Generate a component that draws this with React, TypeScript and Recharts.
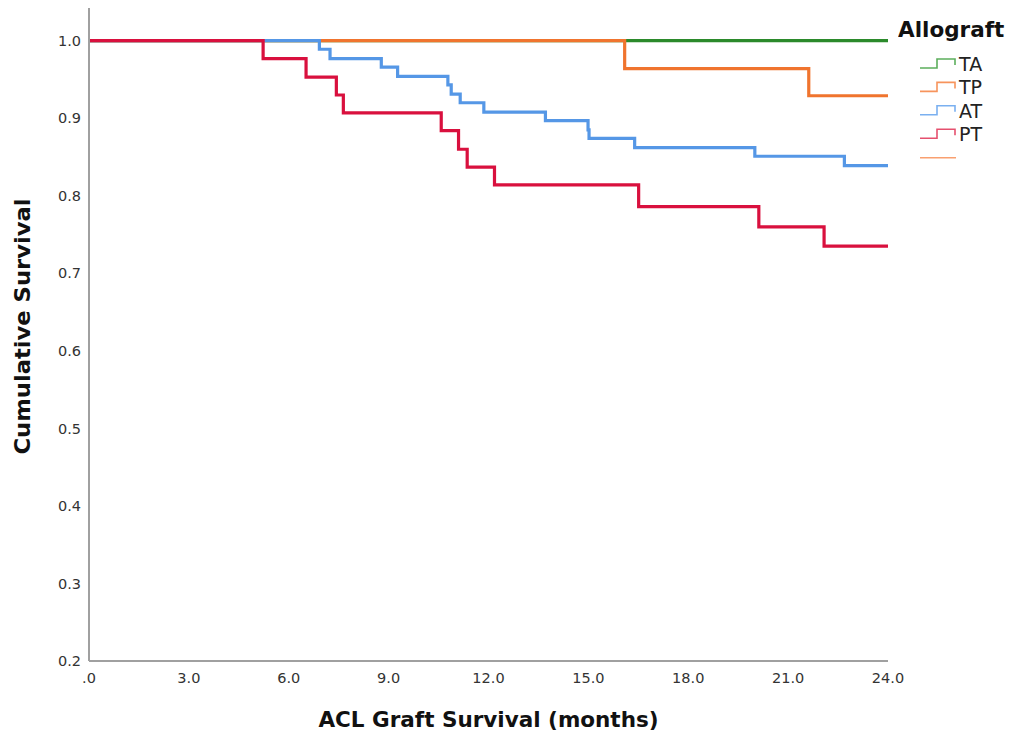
import { LineChart, Line, XAxis, YAxis, Legend } from "recharts";

// Kaplan-Meier steps (months, cumulative survival)
const taTimes = [0, 24];
const taSurv = [1, 1];

const tpTimes = [0, 16.09, 21.62, 24];
const tpSurv = [1, 0.964, 0.929, 0.929];

const atTimes = [0, 6.92, 7.24, 8.78, 9.27, 10.78, 10.88, 11.15, 11.86, 13.71, 14.99, 15.02, 16.39, 20.0, 22.69, 24];
const atSurv = [1, 0.989, 0.977, 0.966, 0.954, 0.943, 0.931, 0.92, 0.908, 0.897, 0.885, 0.874, 0.862, 0.851, 0.839, 0.839];

const ptTimes = [0, 5.23, 6.52, 7.43, 7.64, 10.58, 11.1, 11.36, 12.18, 16.51, 20.12, 22.08, 24];
const ptSurv = [1, 0.977, 0.953, 0.93, 0.907, 0.884, 0.86, 0.837, 0.814, 0.786, 0.76, 0.735, 0.735];

const groups = ["TA", "TP", "AT", "PT"];
const lineColors = ["#2b8a2b", "#f0742e", "#5597e6", "#d9103e"];
const legendColors = ["#5cae5c", "#f7945c", "#7ab0f0", "#e5506e"];

const xTicks = [0, 3, 6, 9, 12, 15, 18, 21, 24];
const yTicks = [0.2, 0.3, 0.4, 0.5, 0.6, 0.7, 0.8, 0.9, 1.0];

const toPoints = (times: number[], surv: number[]) =>
  times.map((t, i) => ({ t, s: surv[i] }));

const series = [
  toPoints(taTimes, taSurv),
  toPoints(tpTimes, tpSurv),
  toPoints(atTimes, atSurv),
  toPoints(ptTimes, ptSurv),
];

const font = "DejaVu Sans";

function YTitle(props: any) {
  const vb = props.viewBox || { x: 0, y: 8, width: 89, height: 653 };
  const cx = 22;
  const cy = vb.y + vb.height / 2 - 8;
  return (
    <text
      x={cx}
      y={cy}
      transform={`rotate(-90, ${cx}, ${cy})`}
      textAnchor="middle"
      dominantBaseline="central"
      fontFamily={font}
      fontSize={22}
      fontWeight="bold"
      fill="#111"
      textLength={256}
      lengthAdjust="spacingAndGlyphs"
    >
      Cumulative Survival
    </text>
  );
}

function KmLegend() {
  return (
    <svg width={115} height={170}>
      <text x={0} y={37} fontFamily={font} fontSize={21.5} fontWeight="bold" fill="#111">
        Allograft
      </text>
      {groups.map((g, i) => {
        const cy = 64 + i * 23.4;
        return (
          <g key={g}>
            <path
              d={`M22,${cy + 4} H39 V${cy - 5} H57 V${cy + 1}`}
              fill="none"
              stroke={legendColors[i]}
              strokeWidth={1.6}
            />
            <text x={61} y={cy + 7} fontFamily={font} fontSize={19} fill="#222">
              {g}
            </text>
          </g>
        );
      })}
      <line x1={22} x2={58} y1={157.7} y2={157.7} stroke="#f9a070" strokeWidth={1.6} />
    </svg>
  );
}

export default function App() {
  return (
    <div style={{ position: "absolute", left: 0, top: 0, background: "#fff" }}>
      <LineChart
        width={1013}
        height={736}
        margin={{ top: 8, right: 125, bottom: 0, left: 0 }}
        style={{ fontFamily: font }}
      >
        <XAxis
          type="number"
          dataKey="t"
          domain={[0, 24]}
          ticks={xTicks}
          height={75}
          tickFormatter={(v: number) => (v === 0 ? ".0" : v.toFixed(1))}
          tickLine={false}
          tickSize={6}
          tickMargin={6}
          axisLine={{ stroke: "#a0a0a0", strokeWidth: 2 }}
          tick={{ fontSize: 14.5, fill: "#333", fontFamily: font }}
          label={{
            value: "ACL Graft Survival (months)",
            position: "insideBottom",
            offset: 9,
            style: { fontSize: 21.5, fontWeight: "bold", fill: "#111", fontFamily: font },
          }}
        />
        <YAxis
          type="number"
          domain={[0.2, 1.0422]}
          allowDataOverflow
          ticks={yTicks}
          width={89}
          tickFormatter={(v: number) => v.toFixed(1)}
          tickLine={false}
          tickSize={4}
          tickMargin={4}
          axisLine={{ stroke: "#a0a0a0", strokeWidth: 2 }}
          tick={{ fontSize: 14.5, fill: "#333", fontFamily: font }}
          label={<YTitle />}
        />
        <Legend
          layout="horizontal"
          verticalAlign="middle"
          align="center"
          content={<KmLegend />}
          wrapperStyle={{ position: "absolute", left: 898, top: 0, width: 115 }}
        />
        {series.map((d, i) => (
          <Line
            key={groups[i]}
            data={d}
            dataKey="s"
            name={groups[i]}
            type="stepAfter"
            stroke={lineColors[i]}
            strokeWidth={3.2}
            dot={false}
            activeDot={false}
            isAnimationActive={false}
          />
        ))}
      </LineChart>
    </div>
  );
}
